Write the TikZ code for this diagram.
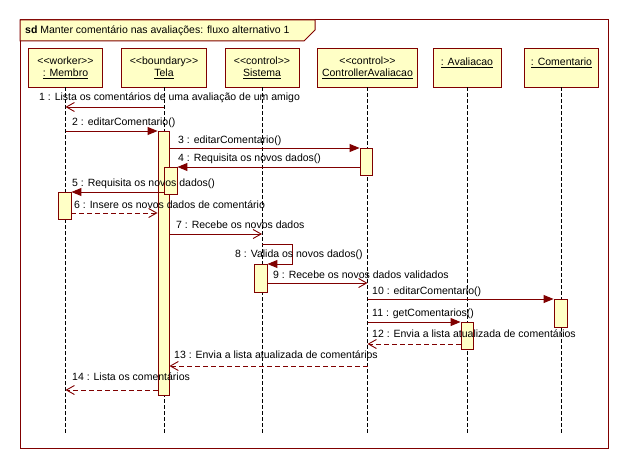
\documentclass[tikz,border=0pt]{standalone}
\usepackage{fontspec}
\setmainfont{Liberation Sans}
\usetikzlibrary{arrows.meta}
\definecolor{maroon}{HTML}{800000}
\definecolor{lyel}{HTML}{FFFFC6}
\begin{document}
\begin{tikzpicture}[x=1pt,y=-1pt,
  font=\fontsize{10.5}{12}\selectfont,
  head/.style={draw=maroon, fill=lyel, line width=0.9pt, minimum height=39pt, inner sep=0pt, align=center},
  act/.style={draw=maroon, fill=lyel, line width=0.9pt, minimum width=12pt, inner sep=0pt, anchor=north},
  life/.style={draw=black, line width=0.7pt, dash pattern=on 3.5pt off 2.5pt},
  msgf/.style={draw=maroon, line width=1pt, -{Triangle[length=10pt,width=8pt]}},
  msgo/.style={draw=maroon, line width=1pt, -{Straight Barb[length=8pt,width=9pt,line width=0.9pt]}},
  msgr/.style={msgo, dash pattern=on 5pt off 3pt},
  lbl/.style={anchor=west, inner sep=0pt, text height=7.5pt, text depth=2pt}
]
\useasboundingbox (0,0) rectangle (628,468);
\fill[white] (0,0) rectangle (628,468);
% frame
\draw[maroon, line width=1pt] (20,20) rectangle (608,448);
\draw[maroon, line width=1pt, fill=lyel] (20,20) -- (315,20) -- (315,30) -- (304,41) -- (20,41) -- cycle;
\node[lbl] (title) at (25,31) {\textbf{sd} Manter comentário nas avaliações: fluxo alternativo 1};
% heads
\node[head, minimum width=74pt] (mem) at (65.5,67.5) {<{}<worker>{}>\\\underline{: Membro}};
\node[head, minimum width=85pt] (tela) at (164,67.5) {<{}<boundary>{}>\\\underline{Tela}};
\node[head, minimum width=74pt] (sis) at (262,67.5) {<{}<control>{}>\\\underline{Sistema}};
\node[head, minimum width=100pt] (ctrl) at (367.5,67.5) {<{}<control>{}>\\\underline{ControllerAvaliacao}};
\node[head, minimum width=68pt] (ava) at (467,67.5) {\underline{: Avaliacao}\\\mbox{}};
\node[head, minimum width=74pt] (com) at (561.5,67.5) {\underline{: Comentario}\\\mbox{}};
% lifelines
\coordinate (bot) at (0,435);
\foreach \n in {mem,tela,sis,ctrl,ava,com}
  \draw[life] (\n.south) -- (\n.south |- bot);
% activations
\node[act, minimum width=11pt, minimum height=264pt] (aTela) at (163.5,131) {};
\node[act, minimum height=27pt] (aCtrl) at (366,148) {};
\node[act, minimum width=13pt, minimum height=27pt] (aTela2) at (170.5,167) {};
\node[act, minimum width=13pt, minimum height=27pt] (aMem) at (64.5,192) {};
\node[act, minimum width=13pt, minimum height=28pt] (aSis) at (260.5,264) {};
\node[act, minimum width=13pt, minimum height=28pt] (aCom) at (560.5,299) {};
\node[act, minimum height=27pt] (aAva) at (467,322) {};
% message rows
\coordinate (m1) at (0,107);
\coordinate (m6) at (0,213);
\coordinate (m7) at (0,234);
\coordinate (m8) at (0,244);
\coordinate (m9) at (0,283);
\coordinate (m12) at (0,344);
\coordinate (m13) at (0,366);
\coordinate (m14) at (0,390);
% messages
\draw[msgo] (tela |- m1) -- (mem |- m1);
\node[lbl] (l1) at (39,98) {1 : Lista os comentários de uma avaliação de um amigo};
\draw[msgf] (mem |- aTela.north west) -- (aTela.north west);
\node[lbl] (l2) at (72,123) {2 : editarComentario()};
\draw[msgf] (aTela.east |- aCtrl.north) -- (aCtrl.north west);
\node[lbl] (l3) at (178,141) {3 : editarComentario()};
\draw[msgf] (aCtrl.west |- aTela2.north) -- (aTela2.north east);
\node[lbl] (l4) at (178,159) {4 : Requisita os novos dados()};
\draw[msgf] (aTela2.west |- aMem.north) -- (aMem.north east);
\node[lbl] (l5) at (72,184) {5 : Requisita os novos dados()};
\draw[msgr] (aMem.east |- m6) -- (aTela.west |- m6);
\node[lbl] (l6) at (74,206) {6 : Insere os novos dados de comentário};
\draw[msgo] (aTela.east |- m7) -- (sis |- m7);
\node[lbl] (l7) at (176,226) {7 : Recebe os novos dados};
\draw[msgf] (sis |- m8) -- ++(30,0) |- (aSis.north east);
\node[lbl] (l8) at (235,255) {8 : Valida os novos dados()};
\draw[msgo] (aSis.east |- m9) -- (ctrl |- m9);
\node[lbl] (l9) at (273,276) {9 : Recebe os novos dados validados};
\draw[msgf] (ctrl |- aCom.north) -- (aCom.north west);
\node[lbl] (l10) at (372,292) {10 : editarComentario()};
\draw[msgf] (ctrl |- aAva.north) -- (aAva.north west);
\node[lbl] (l11) at (372,314) {11 : getComentarios()};
\draw[msgr] (aAva.west |- m12) -- (ctrl |- m12);
\node[lbl] (l12) at (372,335) {12 : Envia a lista atualizada de comentários};
\draw[msgr] (ctrl |- m13) -- (aTela.east |- m13);
\node[lbl] (l13) at (174,356) {13 : Envia a lista atualizada de comentários};
\draw[msgr] (aTela.west |- m14) -- (mem |- m14);
\node[lbl] (l14) at (72,378) {14 : Lista os comentários};
\end{tikzpicture}
\end{document}
